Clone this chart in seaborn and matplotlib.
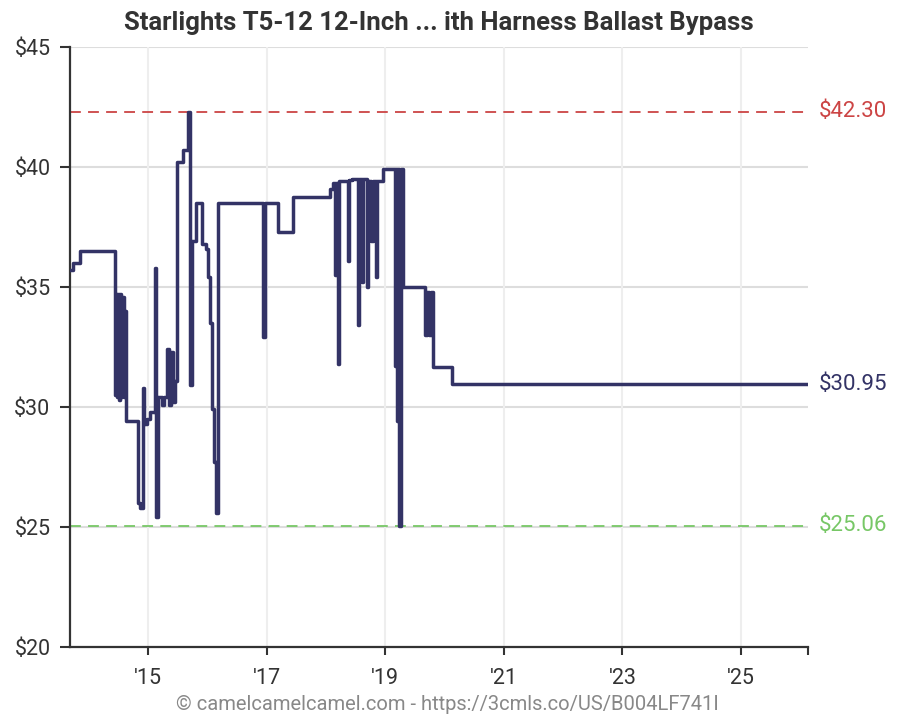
import pandas as pd
import matplotlib.pyplot as plt
import matplotlib.transforms as mtransforms
import seaborn as sns

# price history (step changes)
dates = [
    '2013-09-07', '2013-09-26', '2013-11-08', '2014-06-12', '2014-06-18',
    '2014-06-24', '2014-06-30', '2014-07-06', '2014-07-12', '2014-07-18',
    '2014-07-24', '2014-08-05', '2014-08-11', '2014-08-18', '2014-10-31',
    '2014-11-12', '2014-12-01', '2014-12-07', '2014-12-25', '2015-01-13',
    '2015-02-13', '2015-02-19', '2015-03-03', '2015-03-28', '2015-04-09',
    '2015-04-27', '2015-05-10', '2015-05-22', '2015-06-04', '2015-06-16',
    '2015-06-28', '2015-08-04', '2015-09-04', '2015-09-16', '2015-09-28',
    '2015-10-23', '2015-11-29', '2015-12-24', '2016-01-05', '2016-01-17',
    '2016-01-29', '2016-02-11', '2016-02-23', '2016-03-06', '2016-12-08',
    '2016-12-21', '2017-03-11', '2017-06-12', '2018-01-25', '2018-02-13',
    '2018-02-25', '2018-03-03', '2018-03-16', '2018-03-22', '2018-05-16',
    '2018-05-22', '2018-06-10', '2018-07-17', '2018-07-23', '2018-08-10',
    '2018-08-16', '2018-09-10', '2018-09-16', '2018-10-05', '2018-10-17',
    '2018-11-05', '2018-11-11', '2018-12-18', '2019-03-02', '2019-03-08',
    '2019-03-15', '2019-03-21', '2019-03-27', '2019-04-08', '2019-04-20',
    '2019-09-02', '2019-09-15', '2019-09-27', '2019-10-09', '2019-10-22',
    '2020-02-16', '2026-02-17',
]
prices = [
    35.7, 36.0, 36.5, 30.5, 34.7,
    30.4, 34.7, 30.3, 34.7, 30.4,
    34.6, 30.4, 34.0, 29.4, 26.0,
    25.8, 30.8, 29.3, 29.5, 29.8,
    35.8, 25.4, 30.4, 30.1, 30.4,
    32.4, 30.1, 32.3, 30.2, 31.1,
    40.2, 40.7, 42.3, 30.9, 36.9,
    38.5, 36.8, 36.6, 35.4, 33.5,
    29.9, 27.7, 25.6, 38.5, 32.9,
    38.5, 37.3, 38.75, 39.1, 39.35,
    35.5, 39.35, 31.8, 39.4, 36.1,
    39.45, 39.5, 33.4, 39.5, 35.2,
    39.5, 35.0, 39.4, 36.9, 39.4,
    35.4, 39.4, 39.9, 31.7, 39.9,
    29.4, 39.9, 25.06, 39.9, 35.0,
    33.0, 34.8, 33.0, 34.8, 31.65,
    30.95, 30.95,
]

highest = 42.30
lowest = 25.06
current = 30.95

tick_years = [2015, 2017, 2019, 2021, 2023, 2025]
tick_labels = ["'15", "'17", "'19", "'21", "'23", "'25"]

title = 'Starlights T5-12 12-Inch ... ith Harness Ballast Bypass'
footer = '\u00a9 camelcamelcamel.com - https://3cmls.co/US/B004LF741I'

line_color = '#333366'
high_color = '#cc4444'
low_color = '#77c766'
text_color = '#333333'


def main():
    sns.set_style('white')
    plt.rcParams['font.family'] = ['Roboto', 'DejaVu Sans']

    df = pd.DataFrame({'date': pd.to_datetime(dates), 'price': prices})

    fig = plt.figure(figsize=(9, 7.2), dpi=100)
    ax = fig.add_axes([70 / 900, 1 - 647 / 720, 738 / 900, 600 / 720])

    start = df['date'].iloc[0]
    end = df['date'].iloc[-1]

    ax.axhline(highest, color=high_color, lw=1.3, ls=(0, (6, 4)), zorder=2)
    ax.axhline(lowest, color=low_color, lw=1.3, ls=(0, (6, 4)), zorder=2)

    sns.lineplot(data=df, x='date', y='price', drawstyle='steps-post',
                 estimator=None, sort=False, color=line_color, lw=2.5,
                 ax=ax, zorder=3)

    ax.set_xlim(start, end)
    ax.set_ylim(20, 45)
    ax.set_yticks([20, 25, 30, 35, 40, 45])
    ax.set_yticklabels(['$20', '$25', '$30', '$35', '$40', '$45'])

    xt = [pd.Timestamp(f'{y}-01-01') for y in tick_years]
    ax.set_xticks(xt + [end])
    ax.set_xticklabels(tick_labels + [''])

    ax.set_xlabel('')
    ax.set_ylabel('')
    ax.set_title(title, fontsize=18.5, fontweight='bold', color=text_color,
                 loc='center', pad=12)

    # grid
    for v in [25, 30, 35, 40, 45]:
        ax.axhline(v, color='#dddddd', lw=1.5, zorder=0)
    for t in xt:
        ax.axvline(t, color='#eeeeee', lw=1.5, zorder=0)

    sns.despine(ax=ax)
    ax.spines['left'].set_color(text_color)
    ax.spines['bottom'].set_color(text_color)
    ax.spines['left'].set_linewidth(1.6)
    ax.spines['bottom'].set_linewidth(1.6)
    ax.tick_params(axis='y', direction='out', length=7, width=1.5,
                   color=text_color, labelsize=15.5, labelcolor=text_color, pad=7,
                   left=True)
    ax.tick_params(axis='x', direction='out', length=6, width=1.5,
                   color=text_color, labelsize=15.5, labelcolor=text_color, pad=9,
                   bottom=True)

    trans = mtransforms.blended_transform_factory(ax.transAxes, ax.transData)
    ax.text(1.015, highest, f'${highest:.2f}', color=high_color, fontsize=16,
            va='center', ha='left', transform=trans)
    ax.text(1.015, current, f'${current:.2f}', color=line_color, fontsize=16,
            va='center', ha='left', transform=trans)
    ax.text(1.015, lowest, f'${lowest:.2f}', color=low_color, fontsize=16,
            va='center', ha='left', transform=trans)

    fig.text(0.497, 1 - 705 / 720, footer, ha='center', va='center',
             fontsize=14.5, color='#888888')

    fig.savefig('out.png', dpi=100)


if __name__ == '__main__':
    main()
